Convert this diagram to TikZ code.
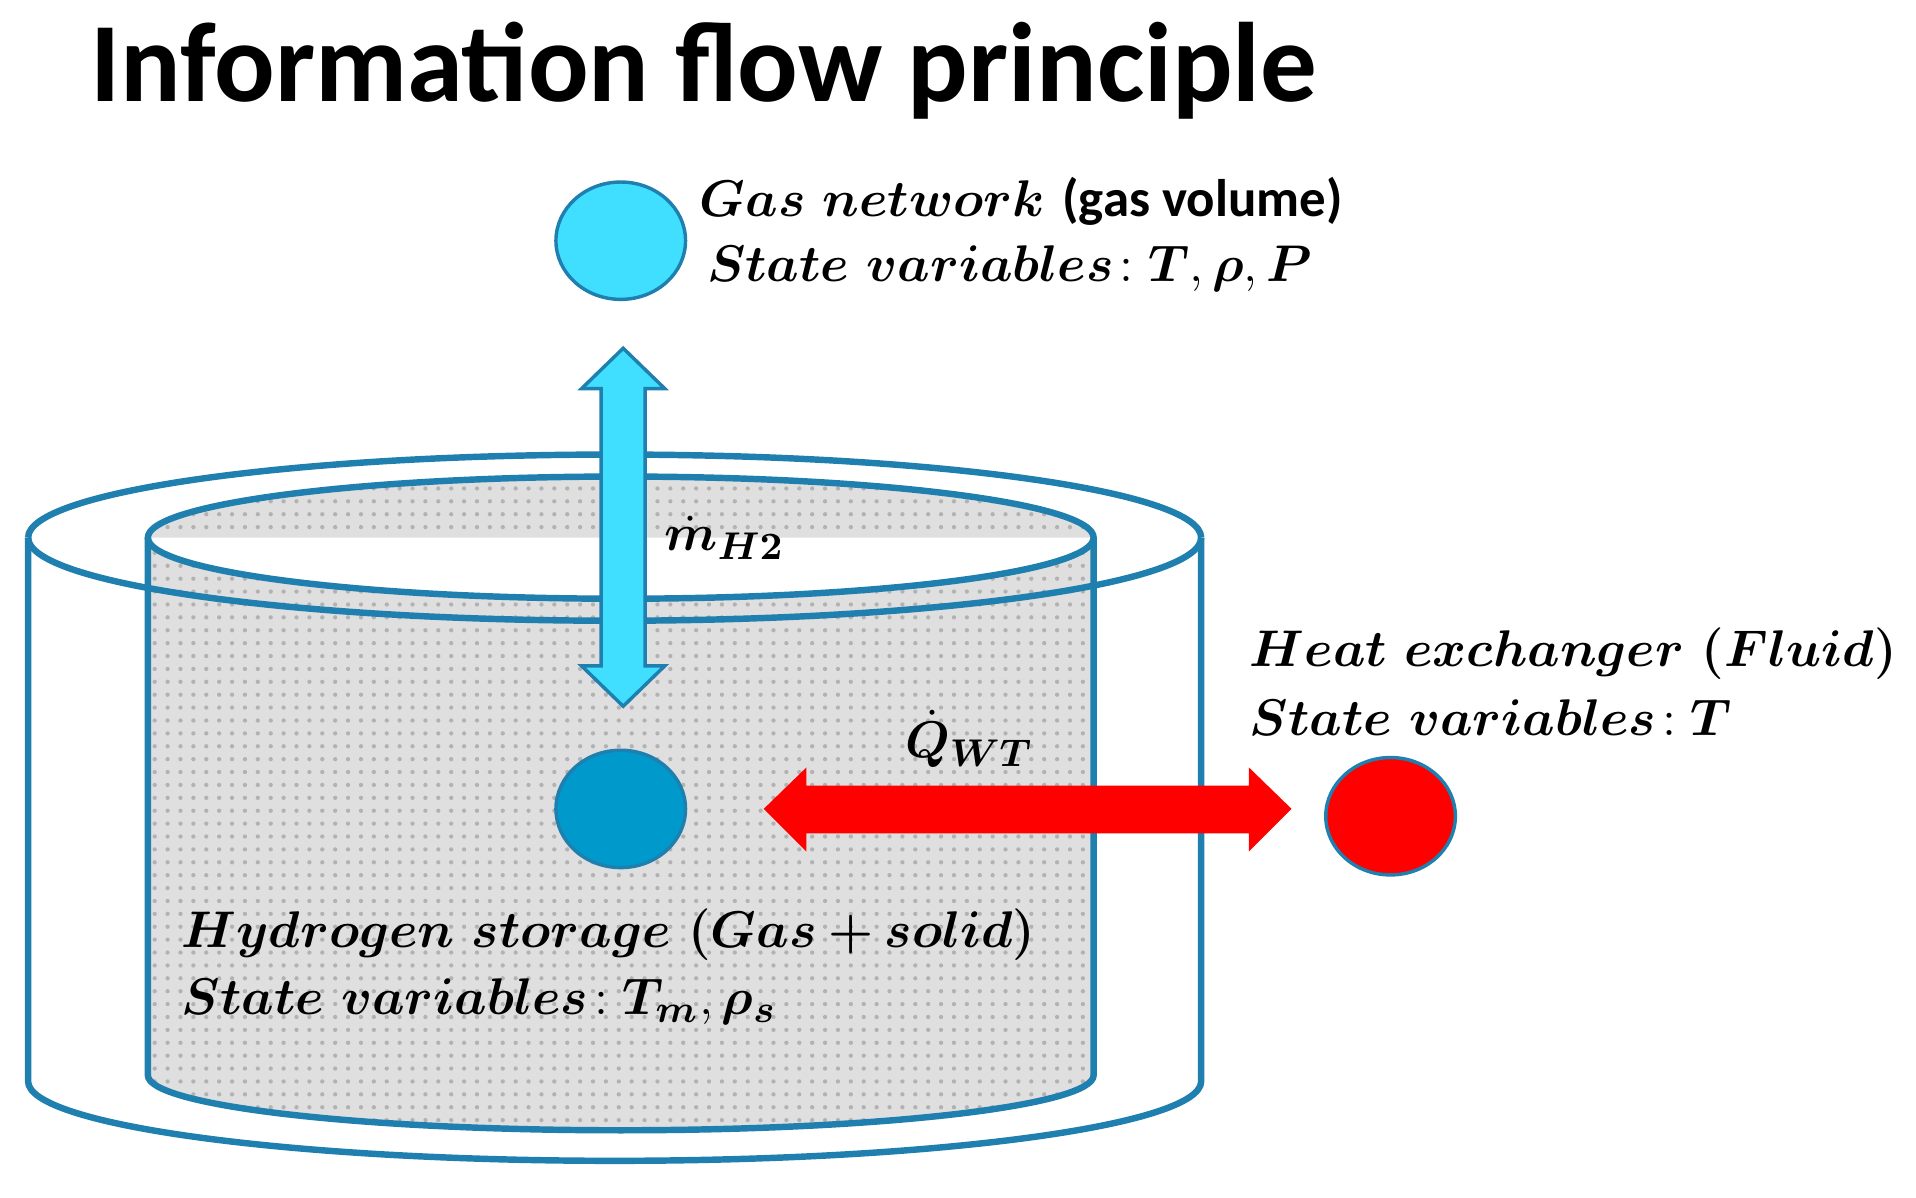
\documentclass[tikz,border=0pt]{standalone}
\usepackage{amsmath,bm}
\usepackage{fontspec}
\newfontfamily\carl{Carlito}
\usetikzlibrary{patterns,shapes.geometric}
\definecolor{cyl}{HTML}{1F7FAF}
\definecolor{lblue}{HTML}{40DFFF}
\definecolor{dblue}{HTML}{0099CC}
\begin{document}
\begin{tikzpicture}[x=0.01cm,y=-0.01cm,
  cl/.style={draw=cyl,line width=1.5pt},
  circ/.style={ellipse,draw=cyl,line width=0.8pt,minimum width=1.06cm,minimum height=0.96cm,inner sep=0},
  lab/.style={anchor=west,inner sep=0,font=\fontsize{12.3}{14}\selectfont}]
\useasboundingbox (0,0) rectangle (1568,980);
\node[anchor=west,inner sep=0,font=\carl\bfseries\fontsize{26.3}{30}\selectfont] (title) at (73,58) {Information flow principle};
% outer cylinder back parts
\draw[cl] (23,440) arc[start angle=180,end angle=360,x radius=480,y radius=68];
\draw[cl] (23,440) -- (23,885) arc[start angle=180,end angle=0,x radius=480,y radius=65] -- (983,440);
% inner cylinder
\fill[gray!25] (121,440) -- (121,880) arc[start angle=180,end angle=0,x radius=387,y radius=45] -- (895,440) arc[start angle=0,end angle=360,x radius=387,y radius=50];
\fill[pattern=dots,pattern color=gray!60] (121,440) -- (121,880) arc[start angle=180,end angle=0,x radius=387,y radius=45] -- (895,440) arc[start angle=0,end angle=360,x radius=387,y radius=50];
\draw[cl] (508,440) ellipse[x radius=387,y radius=50];
\draw[cl] (121,440) -- (121,880) arc[start angle=180,end angle=0,x radius=387,y radius=45] -- (895,440);
% outer front arc
\draw[cl] (23,440) arc[start angle=180,end angle=0,x radius=480,y radius=68];
% circles
\node[circ,fill=lblue] (gas) at (508,197) {};
\node[circ,fill=dblue] (hs) at (508,662) {};
\node[circ,fill=red,draw=cyl] (hx) at (1138,668) {};
% arrows
\draw[cyl,line width=0.8pt,fill=lblue] (510,285) -- (544,318) -- (528,318) -- (528,545) -- (544,545) -- (510,578) -- (476,545) -- (492,545) -- (492,318) -- (476,318) -- cycle;
\fill[red] (625,662) -- (660,628) -- (660,643) -- (1022,643) -- (1022,628) -- (1057,662) -- (1022,697) -- (1022,682) -- (660,682) -- (660,697) -- cycle;
% labels
\node[lab] (t1) at (572,165) {$\bm{Gas\ network}$ {\carl\bfseries (gas volume)}};
\node[lab] (t2) at (578,220) {$\bm{State\ variables}\!:\bm{T},\bm{\rho},\bm{P}$};
\node[lab] (m) at (543,440) {$\bm{\dot m_{H2}}$};
\node[lab] (q) at (740,605) {$\bm{\dot Q_{WT}}$};
\node[lab] (t3) at (1022,535) {$\bm{Heat\ exchanger\ (Fluid)}$};
\node[lab] (t4) at (1022,587) {$\bm{State\ variables}\!:\bm{T}$};
\node[lab] (t5) at (148,765) {$\bm{Hydrogen\ storage\ (Gas+solid)}$};
\node[lab] (t6) at (148,820) {$\bm{State\ variables}\!:\bm{T_m},\bm{\rho_s}$};
\end{tikzpicture}
\end{document}
